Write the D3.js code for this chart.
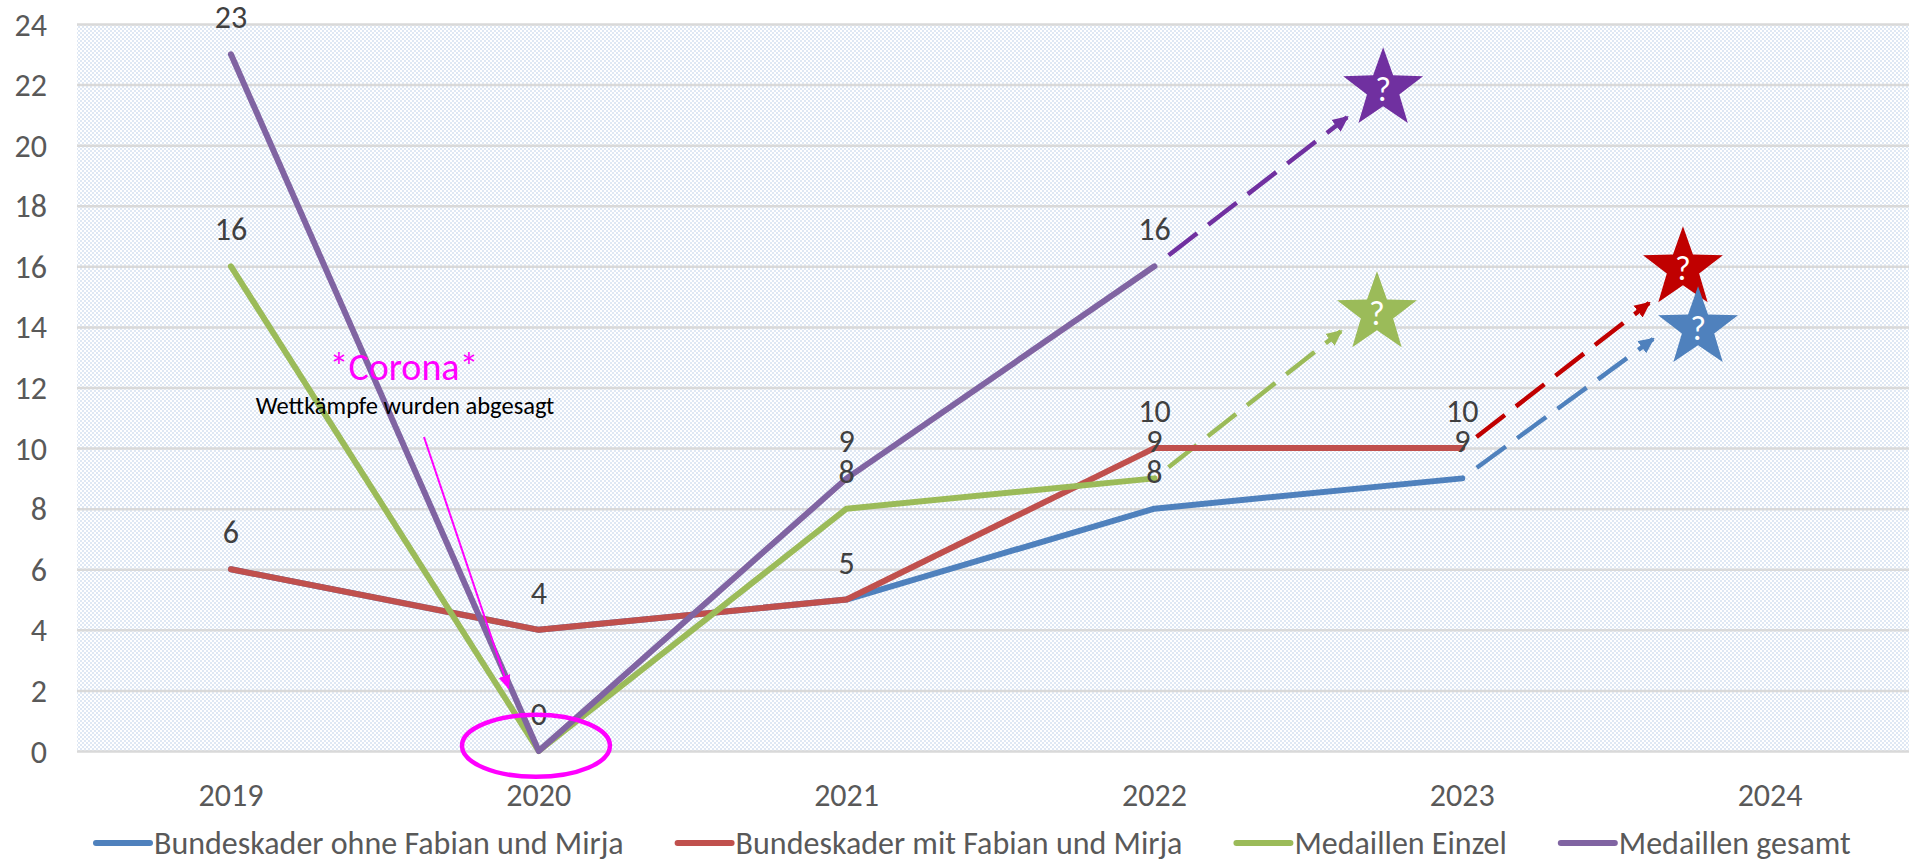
<!DOCTYPE html>
<html>
<head>
<meta charset="utf-8">
<script src="https://cdn.jsdelivr.net/npm/d3@7"></script>
<style>
  body { margin: 0; background: #fff; }
  svg { display: block; }
</style>
</head>
<body>
<div id="chart"></div>
<script>
// Kader- und Medaillenentwicklung 2019-2024

const years = ['2019', '2020', '2021', '2022', '2023', '2024'];
const kaderOhne = [6, 4, 5, 8, 9, null];
const kaderMit = [6, 4, 5, 10, 10, null];
const medailleEinzel = [16, 0, 8, 9, null, null];
const medailleGesamt = [23, 0, 9, 16, null, null];
const seriesNames = ['Bundeskader ohne Fabian und Mirja', 'Bundeskader mit Fabian und Mirja', 'Medaillen Einzel', 'Medaillen gesamt'];
const yTicks = [0, 2, 4, 6, 8, 10, 12, 14, 16, 18, 20, 22, 24];

// outlook arrows + stars, in (category index, value)
const arrowTips = [[4.62, 13.6], [4.607, 14.79], [3.606, 13.86], [3.626, 20.92]];
const starPos = [[4.766, 13.96], [4.717, 15.94], [3.723, 14.45], [3.743, 21.85]];

const allSeries = [kaderOhne, kaderMit, medailleEinzel, medailleGesamt];
const lineColors = ['#4F81BD', '#C0504D', '#9BBB59', '#8064A2'];
const outlookColors = ['#4F81BD', '#C00000', '#9BBB59', '#7030A0'];

const width = 1909, height = 861;
const margin = { top: 24, right: -15, bottom: 110, left: 77 };
const font = 'Carlito, Calibri, Lato, sans-serif';
const fs = 32;

const svg = d3.select('#chart').append('svg')
  .attr('width', width)
  .attr('height', height);

const defs = svg.append('defs');
const pat = defs.append('pattern')
  .attr('id', 'dots')
  .attr('width', 4).attr('height', 4)
  .attr('patternUnits', 'userSpaceOnUse');
pat.append('rect').attr('width', 4).attr('height', 4).attr('fill', '#fff');
pat.append('rect').attr('width', 2).attr('height', 2).attr('fill', '#dfe8f4');
pat.append('rect').attr('x', 2).attr('y', 2).attr('width', 2).attr('height', 2).attr('fill', '#dfe8f4');

outlookColors.forEach((c, i) => {
  defs.append('marker')
    .attr('id', 'arr' + i)
    .attr('markerUnits', 'userSpaceOnUse')
    .attr('viewBox', '0 -8 16 16')
    .attr('refX', 14).attr('refY', 0)
    .attr('markerWidth', 16).attr('markerHeight', 16)
    .attr('orient', 'auto')
    .append('path')
    .attr('d', 'M0,-7.5L16,0L0,7.5Z')
    .attr('fill', c);
});
defs.append('marker')
  .attr('id', 'arrMag')
  .attr('markerUnits', 'userSpaceOnUse')
  .attr('viewBox', '0 -7 14 14')
  .attr('refX', 13).attr('refY', 0)
  .attr('markerWidth', 14).attr('markerHeight', 14)
  .attr('orient', 'auto')
  .append('path')
  .attr('d', 'M0,-6L14,0L0,6Z')
  .attr('fill', '#FF00FF');

const x = d3.scalePoint()
  .domain(years)
  .range([margin.left, width - margin.right])
  .padding(0.5);
const step = x.step();
const xi = i => x(years[0]) + i * step;

const y = d3.scaleLinear()
  .domain([0, 24])
  .range([height - margin.bottom, margin.top]);

// plot area
svg.append('rect')
  .attr('x', margin.left)
  .attr('y', y(24))
  .attr('width', width - margin.right - margin.left)
  .attr('height', y(0) - y(24))
  .attr('fill', 'url(#dots)');

// gridlines
svg.append('g')
  .attr('transform', `translate(${margin.left},0)`)
  .call(d3.axisLeft(y).tickValues(yTicks).tickSize(-(width - margin.right - margin.left)).tickFormat(''))
  .call(g => g.select('.domain').remove())
  .selectAll('line')
  .attr('stroke', '#d9d9d9')
  .attr('stroke-width', 2.5);

// y labels
svg.append('g')
  .selectAll('text')
  .data(yTicks)
  .enter()
  .append('text')
  .attr('x', 47)
  .attr('y', d => y(d))
  .attr('dy', '0.36em')
  .attr('text-anchor', 'end')
  .attr('fill', '#595959')
  .attr('font-family', font)
  .attr('font-size', fs)
  .text(d => d);

// x labels
svg.append('g')
  .selectAll('text')
  .data(years)
  .enter()
  .append('text')
  .attr('x', d => x(d))
  .attr('y', 806)
  .attr('text-anchor', 'middle')
  .attr('fill', '#595959')
  .attr('font-family', font)
  .attr('font-size', fs)
  .text(d => d);

// outlook dashed arrows
allSeries.forEach((s, si) => {
  let last = -1;
  s.forEach((v, i) => { if (v != null) last = i; });
  const x0 = xi(last), y0 = y(s[last]);
  const x1 = xi(arrowTips[si][0]), y1 = y(arrowTips[si][1]);
  const len = Math.hypot(x1 - x0, y1 - y0);
  const ux = (x1 - x0) / len, uy = (y1 - y0) / len;
  svg.append('line')
    .attr('x1', x0 + ux * 18).attr('y1', y0 + uy * 18)
    .attr('x2', x1).attr('y2', y1)
    .attr('stroke', outlookColors[si])
    .attr('stroke-width', 4.5)
    .attr('stroke-dasharray', '36 14')
    .attr('marker-end', `url(#arr${si})`);
});

// series lines
const line = d3.line()
  .defined(d => d != null)
  .x((d, i) => x(years[i]))
  .y(d => y(d));

allSeries.forEach((s, si) => {
  svg.append('path')
    .datum(s)
    .attr('d', line)
    .attr('fill', 'none')
    .attr('stroke', lineColors[si])
    .attr('stroke-width', 6)
    .attr('stroke-linejoin', 'round')
    .attr('stroke-linecap', 'round');
});

// data labels (skip duplicates)
const seen = new Set();
const labels = [];
allSeries.forEach(s => s.forEach((v, i) => {
  if (v == null) return;
  const k = i + '|' + v;
  if (seen.has(k)) return;
  seen.add(k);
  labels.push({ i, v });
}));
svg.append('g')
  .selectAll('text')
  .data(labels)
  .enter()
  .append('text')
  .attr('x', d => x(years[d.i]))
  .attr('y', d => y(d.v) - 26)
  .attr('text-anchor', 'middle')
  .attr('fill', '#404040')
  .attr('font-family', font)
  .attr('font-size', fs)
  .text(d => d.v);

// stars with question marks
const star = (cx, cy, R, r) => {
  const pts = [];
  for (let k = 0; k < 10; k++) {
    const a = -Math.PI / 2 + k * Math.PI / 5;
    const rr = k % 2 === 0 ? R : r;
    pts.push([cx + rr * Math.cos(a), cy + rr * Math.sin(a)]);
  }
  return 'M' + pts.map(p => p.join(',')).join('L') + 'Z';
};
[3, 2, 1, 0].forEach(si => {
  const cx = xi(starPos[si][0]), cy = y(starPos[si][1]);
  svg.append('path')
    .attr('d', star(cx, cy, 42, 17))
    .attr('fill', outlookColors[si]);
  svg.append('text')
    .attr('x', cx)
    .attr('y', cy + 12)
    .attr('text-anchor', 'middle')
    .attr('fill', '#fff')
    .attr('font-family', font)
    .attr('font-size', 34)
    .text('?');
});

// Corona annotation
svg.append('text')
  .attr('x', 404)
  .attr('y', 380)
  .attr('text-anchor', 'middle')
  .attr('fill', '#FF00FF')
  .attr('font-family', font)
  .attr('font-size', 38)
  .text('*Corona*');
svg.append('text')
  .attr('x', 405)
  .attr('y', 414)
  .attr('text-anchor', 'middle')
  .attr('fill', '#000')
  .attr('font-family', font)
  .attr('font-size', 24.5)
  .text('Wettkämpfe wurden abgesagt');
svg.append('line')
  .attr('x1', 424).attr('y1', 437)
  .attr('x2', xi(0.902)).attr('y2', y(2.07))
  .attr('stroke', '#FF00FF')
  .attr('stroke-width', 2)
  .attr('marker-end', 'url(#arrMag)');
svg.append('ellipse')
  .attr('cx', xi(0.991))
  .attr('cy', y(0.17))
  .attr('rx', 74)
  .attr('ry', 31)
  .attr('fill', 'none')
  .attr('stroke', '#FF00FF')
  .attr('stroke-width', 4.5);

// legend
const legend = svg.append('g');
let lx = 96;
seriesNames.forEach((name, i) => {
  const item = legend.append('g').attr('transform', `translate(${lx},0)`);
  item.append('line')
    .attr('x1', 0).attr('x2', 54)
    .attr('y1', 843).attr('y2', 843)
    .attr('stroke', lineColors[i])
    .attr('stroke-width', 6)
    .attr('stroke-linecap', 'round');
  const t = item.append('text')
    .attr('x', 58)
    .attr('y', 854)
    .attr('fill', '#595959')
    .attr('font-family', font)
    .attr('font-size', fs)
    .text(name);
  lx += 58 + t.node().getComputedTextLength() + 54;
});
</script>
</body>
</html>
